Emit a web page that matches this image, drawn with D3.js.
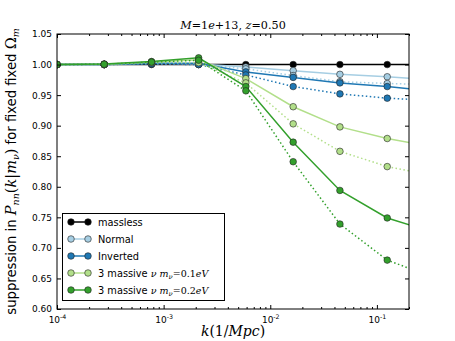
<!DOCTYPE html>
<html><head><meta charset="utf-8">
<script src="https://cdn.jsdelivr.net/npm/d3@7"></script>
<style>body{margin:0;background:#fff}</style>
</head><body><svg id="c" width="455" height="341"></svg>
<script>
// ---- data ----
const kValues = [1e-4, 2.77e-4, 7.7e-4, 2.13e-3, 5.9e-3, 1.64e-2, 4.5e-2, 1.25e-1, 3.46e-1];
const massless       = [1, 1, 1, 1, 1, 1, 1, 1, 1];
const normal         = [1, 1.0, 1.002, 1.001, 0.996, 0.990, 0.984, 0.980, 0.975];
const normalDotted   = [1, 1.0, 1.001, 1.000, 0.993, 0.982, 0.972, 0.969, 0.967];
const inverted       = [1, 1.0, 1.002, 1.002, 0.988, 0.979, 0.970, 0.964, 0.956];
const invertedDotted = [1, 1.0, 1.001, 1.000, 0.983, 0.964, 0.952, 0.945, 0.941];
const m01            = [1, 1.0005, 1.004, 1.008, 0.977, 0.931, 0.898, 0.879, 0.865];
const m01Dotted      = [1, 1.0, 1.003, 1.003, 0.970, 0.903, 0.858, 0.833, 0.818];
const m02            = [1, 1.001, 1.005, 1.011, 0.964, 0.873, 0.794, 0.749, 0.725];
const m02Dotted      = [1, 1.0005, 1.004, 1.007, 0.957, 0.841, 0.739, 0.680, 0.651];

const yTicks = [0.60, 0.65, 0.70, 0.75, 0.80, 0.85, 0.90, 0.95, 1.00, 1.05];
const xTicks = [1e-4, 1e-3, 1e-2, 1e-1];
const xTickExps = ["-4", "-3", "-2", "-1"];
const legendLabels = ["massless", "Normal", "Inverted", "0.1", "0.2"];
const colors = ["#000000", "#a6cee3", "#1f78b4", "#b2df8a", "#33a02c"];

const series = [
  {v: massless, c: 0, dotted: false},
  {v: normal, c: 1, dotted: false},
  {v: normalDotted, c: 1, dotted: true},
  {v: inverted, c: 2, dotted: false},
  {v: invertedDotted, c: 2, dotted: true},
  {v: m01, c: 3, dotted: false},
  {v: m01Dotted, c: 3, dotted: true},
  {v: m02, c: 4, dotted: false},
  {v: m02Dotted, c: 4, dotted: true}
];

// ---- layout ----
const L = 57, R = 409, T = 34, B = 309;
const svg = d3.select("#c");
const x = d3.scaleLog().domain([1e-4, 0.2]).range([L, R]);
const y = d3.scaleLinear().domain([0.60, 1.05]).range([B, T]);
const sans = "DejaVu Sans, sans-serif";
const serif = "DejaVu Serif, serif";
const TH = "\u2009";

svg.append("defs").append("clipPath").attr("id", "clip")
  .append("rect").attr("x", L).attr("y", T).attr("width", R - L).attr("height", B - T);

// lines + markers
const plot = svg.append("g").attr("clip-path", "url(#clip)");
const line = d3.line().x((d, i) => x(kValues[i])).y(d => y(d));
series.forEach(s => {
  const g = plot.append("g");
  g.append("path").attr("d", line(s.v)).attr("fill", "none")
    .attr("stroke", colors[s.c]).attr("stroke-width", 1.5)
    .attr("stroke-dasharray", s.dotted ? "1.5,2.5" : null);
  g.selectAll("circle").data(s.v).enter().append("circle")
    .attr("cx", (d, i) => x(kValues[i])).attr("cy", d => y(d)).attr("r", 3.3)
    .attr("fill", colors[s.c]).attr("stroke", "#222").attr("stroke-width", 0.6);
});

// axes
function clean(g) { g.select(".domain").remove(); g.selectAll(".tick line").attr("stroke", "#000"); }
const minor = [];
[1e-4, 1e-3, 1e-2, 1e-1].forEach(b => { for (let m = 2; m <= 9; m++) { const v = b * m; if (v <= 0.2) minor.push(v); } });

svg.append("g").attr("transform", `translate(${L},0)`)
  .call(d3.axisLeft(y).tickValues(yTicks).tickSize(-4).tickPadding(5).tickFormat(d3.format(".2f")))
  .call(clean)
  .call(g => g.selectAll("text").attr("font-family", sans).attr("font-size", 9).attr("fill", "#000"));
svg.append("g").attr("transform", `translate(${R},0)`)
  .call(d3.axisRight(y).tickValues(yTicks).tickSize(-4).tickFormat("")).call(clean);

const xb = svg.append("g").attr("transform", `translate(0,${B})`)
  .call(d3.axisBottom(x).tickValues(xTicks).tickSize(-4).tickPadding(6).tickFormat(""))
  .call(clean);
xb.selectAll(".tick text").each(function(d, i) {
  const t = d3.select(this).attr("font-family", sans).attr("font-size", 9).attr("fill", "#000").attr("dy", "0.9em");
  t.append("tspan").text("10");
  t.append("tspan").attr("font-size", 6.3).attr("dy", -4).text(xTickExps[i]);
});
svg.append("g").attr("transform", `translate(0,${B})`)
  .call(d3.axisBottom(x).tickValues(minor).tickSize(-2).tickFormat("")).call(clean);
svg.append("g").attr("transform", `translate(0,${T})`)
  .call(d3.axisTop(x).tickValues(xTicks).tickSize(-4).tickFormat("")).call(clean);
svg.append("g").attr("transform", `translate(0,${T})`)
  .call(d3.axisTop(x).tickValues(minor).tickSize(-2).tickFormat("")).call(clean);

// frame
svg.append("rect").attr("x", L).attr("y", T).attr("width", R - L).attr("height", B - T)
  .attr("fill", "none").attr("stroke", "#000").attr("stroke-width", 1);

// title
const title = svg.append("text").attr("x", (L + R) / 2).attr("y", 29).attr("text-anchor", "middle")
  .attr("font-family", serif).attr("font-size", 11.2);
title.append("tspan").attr("font-style", "italic").text("M");
title.append("tspan").text("=1");
title.append("tspan").attr("font-style", "italic").text("e");
title.append("tspan").text("+13, ");
title.append("tspan").attr("font-style", "italic").text("z");
title.append("tspan").text("=0.50");

// x label
const xl = svg.append("text").attr("x", (L + R) / 2).attr("y", 336).attr("text-anchor", "middle")
  .attr("font-family", serif).attr("font-size", 14);
xl.append("tspan").attr("font-style", "italic").text("k");
xl.append("tspan").text("(1/");
xl.append("tspan").attr("font-style", "italic").text("Mpc");
xl.append("tspan").text(")");

// y label
const yl = svg.append("text").attr("transform", `translate(16,${(T + B) / 2}) rotate(-90)`)
  .attr("text-anchor", "middle").attr("font-family", sans).attr("font-size", 13.2);
yl.append("tspan").text("suppression in ");
yl.append("tspan").attr("font-family", serif).attr("font-style", "italic").attr("font-size", 14.5).text("P");
yl.append("tspan").attr("font-family", serif).attr("font-style", "italic").attr("font-size", 9.5).attr("dy", 3).text("nn");
yl.append("tspan").attr("font-family", serif).attr("font-size", 14.5).attr("dy", -3).text("(");
yl.append("tspan").attr("font-family", serif).attr("font-style", "italic").attr("font-size", 14.5).text("k");
yl.append("tspan").attr("font-family", serif).attr("font-size", 14.5).text("|");
yl.append("tspan").attr("font-family", serif).attr("font-style", "italic").attr("font-size", 14.5).text("m");
yl.append("tspan").attr("font-family", serif).attr("font-style", "italic").attr("font-size", 9.5).attr("dy", 3).text("ν");
yl.append("tspan").attr("font-family", serif).attr("font-size", 14.5).attr("dy", -3).text(")");
yl.append("tspan").text(" for fixed fixed ");
yl.append("tspan").attr("font-family", serif).attr("font-size", 14.5).text("Ω");
yl.append("tspan").attr("font-family", serif).attr("font-style", "italic").attr("font-size", 9.5).attr("dy", 3).text("m");

// legend
const lg = svg.append("g");
lg.append("rect").attr("x", 62.5).attr("y", 213.5).attr("width", 162).attr("height", 87)
  .attr("fill", "#fff").attr("stroke", "#000").attr("stroke-width", 1);
legendLabels.forEach((lab, i) => {
  const yy = 222 + i * 17;
  lg.append("line").attr("x1", 71).attr("x2", 88).attr("y1", yy).attr("y2", yy)
    .attr("stroke", colors[i]).attr("stroke-width", 1.5);
  [71, 88].forEach(cx => lg.append("circle").attr("cx", cx).attr("cy", yy).attr("r", 3.3)
    .attr("fill", colors[i]).attr("stroke", "#222").attr("stroke-width", 0.6));
  const t = lg.append("text").attr("x", 98).attr("y", yy + 3.5).attr("font-family", sans).attr("font-size", 9.8);
  if (i < 3) { t.text(lab); }
  else {
    t.append("tspan").text("3 massive ");
    t.append("tspan").attr("font-family", serif).attr("font-style", "italic").attr("font-size", 9.5).text("ν m");
    t.append("tspan").attr("font-family", serif).attr("font-style", "italic").attr("font-size", 6.8).attr("dy", 2.5).text("ν");
    t.append("tspan").attr("font-family", serif).attr("font-size", 9.5).attr("dy", -2.5).text("=" + lab);
    t.append("tspan").attr("font-family", serif).attr("font-style", "italic").attr("font-size", 9.5).text("eV");
  }
});
</script>
</body></html>
